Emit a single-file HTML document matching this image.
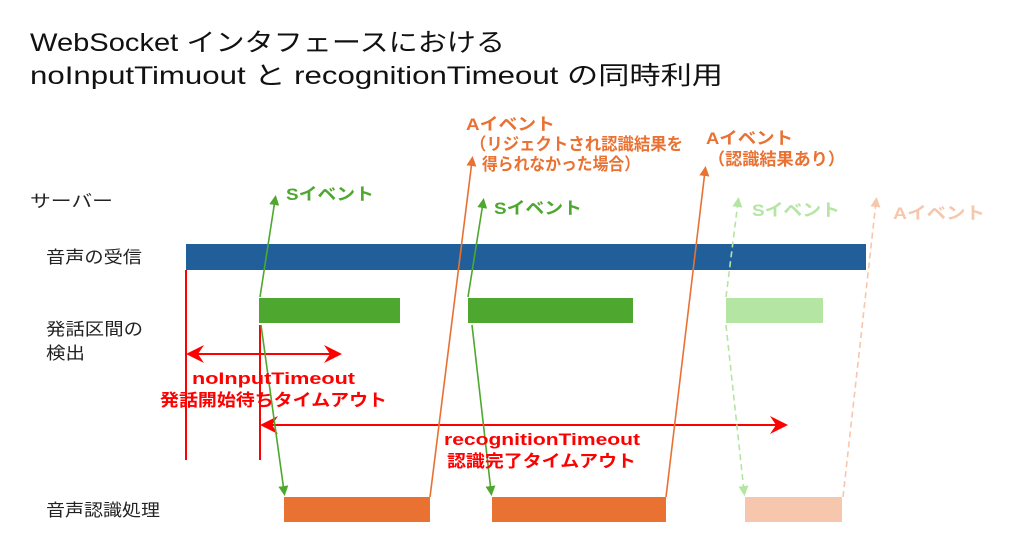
<!DOCTYPE html>
<html><head><meta charset="utf-8"><style>
html,body{margin:0;padding:0;background:#fff;}
svg{display:block;}
text{font-family:"Liberation Sans","Noto Sans CJK JP",sans-serif;}
.b{font-weight:bold;}
</style></head><body>
<svg width="1024" height="552" viewBox="0 0 1024 552" xmlns="http://www.w3.org/2000/svg">
<defs>
<marker id="g" markerWidth="10" markerHeight="10" refX="5" refY="5" orient="auto" markerUnits="userSpaceOnUse" viewBox="0 0 10 10"><path d="M0,0L10,5L0,10z" fill="#4ea72e"/></marker>
<marker id="o" markerWidth="10" markerHeight="10" refX="5" refY="5" orient="auto" markerUnits="userSpaceOnUse" viewBox="0 0 10 10"><path d="M0,0L10,5L0,10z" fill="#e97132"/></marker>
<marker id="lg" markerWidth="10" markerHeight="10" refX="5" refY="5" orient="auto" markerUnits="userSpaceOnUse" viewBox="0 0 10 10"><path d="M0,0L10,5L0,10z" fill="#b4e5a2"/></marker>
<marker id="lo" markerWidth="10" markerHeight="10" refX="5" refY="5" orient="auto" markerUnits="userSpaceOnUse" viewBox="0 0 10 10"><path d="M0,0L10,5L0,10z" fill="#f6c6ad"/></marker>
</defs>
<g font-size="25" fill="#111">
<text x="30" y="51" textLength="475" lengthAdjust="spacingAndGlyphs">WebSocket インタフェースにおける</text>
<text x="30" y="84" textLength="693" lengthAdjust="spacingAndGlyphs">noInputTimuout と recognitionTimeout の同時利用</text>
</g>
<g font-size="17" fill="#222">
<text x="30" y="207" textLength="83" lengthAdjust="spacingAndGlyphs">サーバー</text>
<text x="46" y="263" textLength="96" lengthAdjust="spacingAndGlyphs">音声の受信</text>
<text x="46" y="335" textLength="97" lengthAdjust="spacingAndGlyphs">発話区間の</text>
<text x="46" y="359" textLength="39" lengthAdjust="spacingAndGlyphs">検出</text>
<text x="46" y="516" textLength="114" lengthAdjust="spacingAndGlyphs">音声認識処理</text>
</g>
<rect x="186" y="244" width="680" height="26" fill="#215f9a"/>
<rect x="259" y="298" width="141" height="25" fill="#4ea72e"/>
<rect x="468" y="298" width="165" height="25" fill="#4ea72e"/>
<rect x="726" y="298" width="97" height="25" fill="#b4e5a2"/>
<rect x="284" y="497" width="146" height="25" fill="#e97132"/>
<rect x="492" y="497" width="174" height="25" fill="#e97132"/>
<rect x="745" y="497" width="97" height="25" fill="#f6c6ad"/>
<g stroke="#ff0000" stroke-width="2" fill="none">
<line x1="186" y1="270" x2="186" y2="460"/>
<line x1="260" y1="325" x2="260" y2="460"/>
<line x1="190" y1="354" x2="338" y2="354"/>
<line x1="264" y1="425" x2="784" y2="425"/>
</g>
<g fill="#ff0000">
<path d="M186,354L204,345L198,354L204,363z"/>
<path d="M342,354L324,345L330,354L324,363z"/>
<path d="M260,425L278,416L272,425L278,434z"/>
<path d="M788,425L770,416L776,425L770,434z"/>
</g>
<g stroke-width="1.6" fill="none">
<line x1="260" y1="297" x2="275" y2="200" stroke="#4ea72e" marker-end="url(#g)"/>
<line x1="261" y1="325" x2="284" y2="491" stroke="#4ea72e" marker-end="url(#g)"/>
<line x1="468" y1="297" x2="483" y2="203" stroke="#4ea72e" marker-end="url(#g)"/>
<line x1="472" y1="325" x2="491" y2="491" stroke="#4ea72e" marker-end="url(#g)"/>
<line x1="430" y1="497" x2="472" y2="161" stroke="#e97132" marker-end="url(#o)"/>
<line x1="666" y1="497" x2="705" y2="171" stroke="#e97132" marker-end="url(#o)"/>
<line x1="726" y1="297" x2="738" y2="202" stroke="#b4e5a2" stroke-dasharray="6,4" marker-end="url(#lg)"/>
<line x1="726" y1="325" x2="744" y2="491" stroke="#b4e5a2" stroke-dasharray="6,4" marker-end="url(#lg)"/>
<line x1="843" y1="497" x2="876" y2="202" stroke="#f6c6ad" stroke-dasharray="6,4" marker-end="url(#lo)"/>
</g>
<g font-size="17" class="b">
<text x="286" y="200" fill="#4ea72e" textLength="88" lengthAdjust="spacingAndGlyphs">Sイベント</text>
<text x="494" y="214" fill="#4ea72e" textLength="88" lengthAdjust="spacingAndGlyphs">Sイベント</text>
<text x="752" y="216" fill="#b4e5a2" textLength="88" lengthAdjust="spacingAndGlyphs">Sイベント</text>
<text x="893" y="219" fill="#f6c6ad" textLength="92" lengthAdjust="spacingAndGlyphs">Aイベント</text>
<text x="466" y="130" fill="#e97132" textLength="89" lengthAdjust="spacingAndGlyphs">Aイベント</text>
<text x="470" y="150" fill="#e97132" textLength="213" lengthAdjust="spacingAndGlyphs">（リジェクトされ認識結果を</text>
<text x="482" y="170" fill="#e97132" textLength="158" lengthAdjust="spacingAndGlyphs">得られなかった場合）</text>
<text x="706" y="144" fill="#e97132" textLength="87" lengthAdjust="spacingAndGlyphs">Aイベント</text>
<text x="708" y="165" fill="#e97132" textLength="137" lengthAdjust="spacingAndGlyphs">（認識結果あり）</text>
<text x="192" y="384" fill="#ff0000" textLength="163" lengthAdjust="spacingAndGlyphs">noInputTimeout</text>
<text x="160" y="406" fill="#ff0000" textLength="227" lengthAdjust="spacingAndGlyphs">発話開始待ちタイムアウト</text>
<text x="444" y="445" fill="#ff0000" textLength="196" lengthAdjust="spacingAndGlyphs">recognitionTimeout</text>
<text x="447" y="467" fill="#ff0000" textLength="189" lengthAdjust="spacingAndGlyphs">認識完了タイムアウト</text>
</g>
</svg>
</body></html>
